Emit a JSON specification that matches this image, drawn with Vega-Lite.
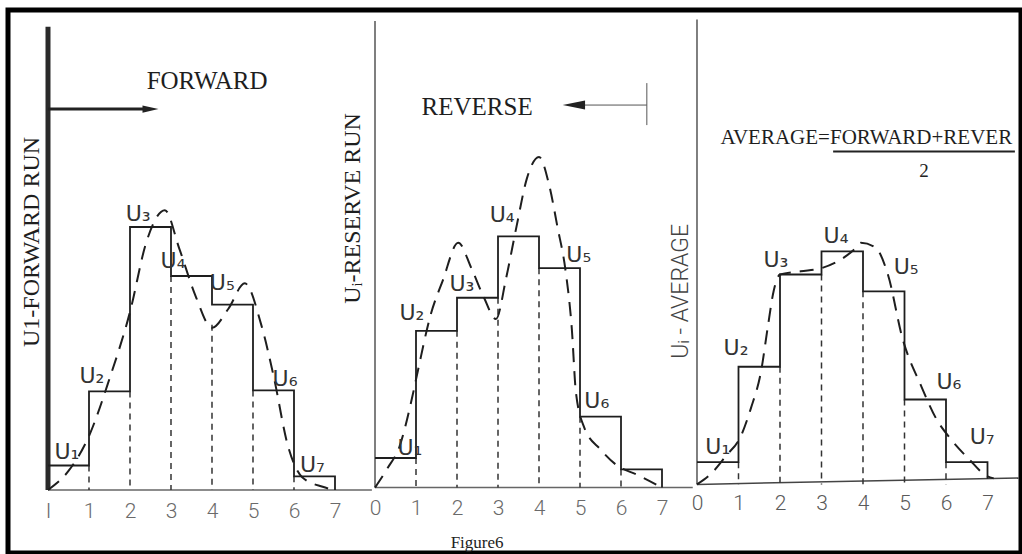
{
  "$schema": "https://vega.github.io/schema/vega-lite/v6.json",
  "width": 1013,
  "height": 543,
  "autosize": {"type": "none"},
  "padding": {"left": 8, "top": 10, "right": 1, "bottom": 1},
  "background": "white",
  "config": {"view": {"stroke": "#000000", "strokeWidth": 5}},
  "resolve": {"scale": {"x": "independent", "y": "independent"}, "axis": {"x": "independent", "y": "independent"}},
  "layer": [
    {
      "encoding": {
        "x": {"field": "x", "type": "quantitative", "scale": {"domain": [-0.9756, 23.732], "nice": false, "zero": false},
          "axis": {"orient": "bottom", "values": [0, 1, 2, 3, 4, 5, 6, 7], "offset": -63, "domain": false, "ticks": false, "tickSize": 0, "grid": false, "title": null,
            "labelFont": "Roboto, Liberation Sans, sans-serif", "labelFontWeight": 300, "labelFontSize": 21, "labelColor": "#6a6a6a", "labelBaseline": "middle", "labelPadding": 21,
            "labelFlush": false, "labelOverlap": false, "labelBound": false, "labelExpr": "datum.value == 0 ? 'I' : datum.label"}},
        "y": {"field": "y", "type": "quantitative", "scale": {"domain": [-19.81, 150.94], "nice": false, "zero": false}, "axis": null}
      },
      "layer": [
        {"data": {"values": [{"x": 0, "x2": 7.9, "y": 0}]}, "mark": {"type": "rule", "color": "#666666", "strokeWidth": 1.5}, "encoding": {"x2": {"field": "x2"}}},
        {"data": {"values": [{"x": 0, "y": 145.7}]}, "mark": {"type": "rule", "color": "#2a2a2a", "strokeWidth": 5}, "encoding": {"y2": {"datum": 0}}},
        {"data": {"values": [{"x": 1, "y": 7.7}, {"x": 2, "y": 31}, {"x": 3, "y": 67.3}, {"x": 4, "y": 52}, {"x": 5, "y": 31.3}, {"x": 6, "y": 4.3}]},
          "mark": {"type": "rule", "color": "#333333", "strokeWidth": 1.5, "strokeDash": [6, 5]}, "encoding": {"y2": {"datum": 0}}},
        {"data": {"values": [{"x": 0, "y": 7.7}, {"x": 1, "y": 31}, {"x": 2, "y": 82.7}, {"x": 3, "y": 67.3}, {"x": 4, "y": 58.3}, {"x": 5, "y": 31.3}, {"x": 6, "y": 4.3}, {"x": 7, "y": 4.3}, {"x": 7, "y": 0}]},
          "mark": {"type": "line", "interpolate": "step-after", "color": "#1e1e1e", "strokeWidth": 1.8}, "encoding": {"order": {"value": null}}},
        {"data": {"values": [{"x": 0, "y": 0}, {"x": 0.5, "y": 6}, {"x": 1, "y": 17}, {"x": 1.5, "y": 35}, {"x": 2, "y": 56}, {"x": 2.4, "y": 78}, {"x": 2.85, "y": 88}, {"x": 3.2, "y": 76}, {"x": 3.6, "y": 61}, {"x": 4, "y": 51}, {"x": 4.4, "y": 57}, {"x": 4.8, "y": 65}, {"x": 5.2, "y": 52}, {"x": 5.5, "y": 36}, {"x": 5.85, "y": 14}, {"x": 6.2, "y": 4}, {"x": 6.7, "y": 1}, {"x": 7, "y": 0}]},
          "mark": {"type": "line", "interpolate": "monotone", "color": "#1e1e1e", "strokeWidth": 2, "strokeDash": [14, 9]}},
        {"data": {"values": [{"x": 0.46, "y": 12, "text": "U₁"}, {"x": 1.07, "y": 36, "text": "U₂"}, {"x": 2.2, "y": 86.7, "text": "U₃"}, {"x": 3.05, "y": 72, "text": "U₄"}, {"x": 4.25, "y": 65, "text": "U₅"}, {"x": 5.78, "y": 35, "text": "U₆"}, {"x": 6.45, "y": 8, "text": "U₇"}]},
          "mark": {"type": "text", "font": "DejaVu Sans", "fontSize": 22, "color": "#333333", "align": "center", "baseline": "middle"}, "encoding": {"text": {"field": "text"}}},
        {"data": {"values": [{"x": 3.88, "y": 128.6, "text": "FORWARD"}]},
          "mark": {"type": "text", "font": "Liberation Serif", "fontSize": 25, "color": "#1e1e1e", "align": "center", "baseline": "middle"}, "encoding": {"text": {"field": "text"}}},
        {"data": {"values": [{"x": -0.39, "y": 78, "text": "U1-FORWARD RUN"}]},
          "mark": {"type": "text", "font": "Liberation Serif", "fontSize": 24, "angle": 270, "color": "#1e1e1e", "align": "center", "baseline": "middle"}, "encoding": {"text": {"field": "text"}}},
        {"data": {"values": [{"x": 0, "x2": 2.35, "y": 119.8}]}, "mark": {"type": "rule", "color": "#222222", "strokeWidth": 3}, "encoding": {"x2": {"field": "x2"}}},
        {"data": {"values": [{"x": 2.5, "y": 119.8}]}, "mark": {"type": "point", "shape": "M-1,-0.45L1,0L-1,0.45Z", "filled": true, "size": 256, "color": "#222222", "opacity": 1}}
      ]
    },
    {
      "encoding": {
        "x": {"field": "x", "type": "quantitative", "scale": {"domain": [-8.9512, 15.756], "nice": false, "zero": false},
          "axis": {"orient": "bottom", "values": [0, 1, 2, 3, 4, 5, 6, 7], "offset": -65.4, "domain": false, "ticks": false, "tickSize": 0, "grid": false, "title": null,
            "labelFont": "Roboto, Liberation Sans, sans-serif", "labelFontWeight": 300, "labelFontSize": 21, "labelColor": "#6a6a6a", "labelBaseline": "middle", "labelPadding": 21,
            "labelFlush": false, "labelOverlap": false, "labelBound": false}},
        "y": {"field": "y", "type": "quantitative", "scale": {"domain": [-20.57, 150.19], "nice": false, "zero": false}, "axis": null}
      },
      "layer": [
        {"data": {"values": [{"x": 0, "x2": 7.75, "y": 0}]}, "mark": {"type": "rule", "color": "#666666", "strokeWidth": 1.5}, "encoding": {"x2": {"field": "x2"}}},
        {"data": {"values": [{"x": 0, "y": 146.7}]}, "mark": {"type": "rule", "color": "#555555", "strokeWidth": 1.5}, "encoding": {"y2": {"datum": 0}}},
        {"data": {"values": [{"x": 1, "y": 9.3}, {"x": 2, "y": 49.3}, {"x": 3, "y": 59.7}, {"x": 4, "y": 69}, {"x": 5, "y": 22.3}, {"x": 6, "y": 5.7}]},
          "mark": {"type": "rule", "color": "#333333", "strokeWidth": 1.5, "strokeDash": [6, 5]}, "encoding": {"y2": {"datum": 0}}},
        {"data": {"values": [{"x": 0, "y": 9.3}, {"x": 1, "y": 49.3}, {"x": 2, "y": 59.7}, {"x": 3, "y": 79}, {"x": 4, "y": 69}, {"x": 5, "y": 22.3}, {"x": 6, "y": 5.7}, {"x": 7, "y": 5.7}, {"x": 7, "y": 0}]},
          "mark": {"type": "line", "interpolate": "step-after", "color": "#1e1e1e", "strokeWidth": 1.8}, "encoding": {"order": {"value": null}}},
        {"data": {"values": [{"x": 0, "y": 0}, {"x": 0.3, "y": 6}, {"x": 0.6, "y": 13}, {"x": 0.9, "y": 28}, {"x": 1.05, "y": 37}, {"x": 1.35, "y": 54}, {"x": 1.65, "y": 65}, {"x": 2.03, "y": 77}, {"x": 2.35, "y": 69}, {"x": 2.65, "y": 60}, {"x": 2.95, "y": 53}, {"x": 3.2, "y": 66}, {"x": 3.45, "y": 82}, {"x": 3.7, "y": 97}, {"x": 4.0, "y": 104}, {"x": 4.25, "y": 95}, {"x": 4.45, "y": 82}, {"x": 4.65, "y": 68}, {"x": 4.8, "y": 50}, {"x": 4.9, "y": 30}, {"x": 5.1, "y": 19}, {"x": 5.5, "y": 12}, {"x": 5.9, "y": 7}, {"x": 6.4, "y": 4}, {"x": 7, "y": 0}]},
          "mark": {"type": "line", "interpolate": "monotone", "color": "#1e1e1e", "strokeWidth": 2, "strokeDash": [14, 9]}},
        {"data": {"values": [{"x": 0.85, "y": 12.3, "text": "U₁"}, {"x": 0.9, "y": 55, "text": "U₂"}, {"x": 2.12, "y": 64, "text": "U₃"}, {"x": 3.1, "y": 85.7, "text": "U₄"}, {"x": 4.97, "y": 73, "text": "U₅"}, {"x": 5.41, "y": 27.3, "text": "U₆"}]},
          "mark": {"type": "text", "font": "DejaVu Sans", "fontSize": 22, "color": "#333333", "align": "center", "baseline": "middle"}, "encoding": {"text": {"field": "text"}}},
        {"data": {"values": [{"x": 2.49, "y": 119.8, "text": "REVERSE"}]},
          "mark": {"type": "text", "font": "Liberation Serif", "fontSize": 25, "color": "#1e1e1e", "align": "center", "baseline": "middle"}, "encoding": {"text": {"field": "text"}}},
        {"data": {"values": [{"x": -0.54, "y": 87.8, "text": "Uᵢ-RESERVE RUN"}]},
          "mark": {"type": "text", "font": "Liberation Serif", "fontSize": 24, "angle": 270, "color": "#1e1e1e", "align": "center", "baseline": "middle"}, "encoding": {"text": {"field": "text"}}},
        {"data": {"values": [{"x": 4.9, "x2": 6.63, "y": 120.3}]}, "mark": {"type": "rule", "color": "#555555", "strokeWidth": 1}, "encoding": {"x2": {"field": "x2"}}},
        {"data": {"values": [{"x": 6.63, "y": 127.2, "y2": 114}]}, "mark": {"type": "rule", "color": "#555555", "strokeWidth": 1}, "encoding": {"y2": {"field": "y2"}}},
        {"data": {"values": [{"x": 4.85, "y": 120.3}]}, "mark": {"type": "point", "shape": "M1,-0.4L-1,0L1,0.4Z", "filled": true, "size": 500, "color": "#222222", "opacity": 1}},
        {"data": {"values": [{"x": 2.49, "y": -17.4, "text": "Figure6"}]},
          "mark": {"type": "text", "font": "Liberation Serif", "fontSize": 17, "color": "#222222", "align": "center", "baseline": "middle"}, "encoding": {"text": {"field": "text"}}}
      ]
    },
    {
      "encoding": {
        "x": {"field": "x", "type": "quantitative", "scale": {"domain": [-16.602, 7.8072], "nice": false, "zero": false},
          "axis": {"orient": "bottom", "values": [0, 1, 2, 3, 4, 5, 6, 7], "offset": -68.6, "domain": false, "ticks": false, "tickSize": 0, "grid": false, "title": null,
            "labelFont": "Roboto, Liberation Sans, sans-serif", "labelFontWeight": 300, "labelFontSize": 21, "labelColor": "#5a5a5a", "labelBaseline": "middle", "labelPadding": 19,
            "labelFlush": false, "labelOverlap": false, "labelBound": false}},
        "y": {"field": "y", "type": "quantitative", "scale": {"domain": [-21.57, 149.18], "nice": false, "zero": false}, "axis": null}
      },
      "layer": [
        {"data": {"values": [{"x": 0, "x2": 7.75, "y": 0, "y2": 2}]}, "mark": {"type": "rule", "color": "#444444", "strokeWidth": 1.5}, "encoding": {"x2": {"field": "x2"}, "y2": {"field": "y2"}}},
        {"data": {"values": [{"x": 0, "y": 146.2}]}, "mark": {"type": "rule", "color": "#555555", "strokeWidth": 1.5}, "encoding": {"y2": {"datum": 0}}},
        {"data": {"values": [{"x": 1, "y": 7}, {"x": 2, "y": 37}, {"x": 3, "y": 66}, {"x": 4, "y": 60.7}, {"x": 5, "y": 26.7}, {"x": 6, "y": 7}]},
          "mark": {"type": "rule", "color": "#333333", "strokeWidth": 1.5, "strokeDash": [6, 5]}, "encoding": {"y2": {"datum": 0}}},
        {"data": {"values": [{"x": 0, "y": 7}, {"x": 1, "y": 37}, {"x": 2, "y": 66}, {"x": 3, "y": 73.3}, {"x": 4, "y": 60.7}, {"x": 5, "y": 26.7}, {"x": 6, "y": 7}, {"x": 7, "y": 7}, {"x": 7, "y": 1.8}]},
          "mark": {"type": "line", "interpolate": "step-after", "color": "#1e1e1e", "strokeWidth": 1.8}, "encoding": {"order": {"value": null}}},
        {"data": {"values": [{"x": 0, "y": 0}, {"x": 0.35, "y": 3.5}, {"x": 0.7, "y": 9}, {"x": 1.05, "y": 15}, {"x": 1.3, "y": 24}, {"x": 1.55, "y": 36}, {"x": 1.7, "y": 49}, {"x": 1.85, "y": 61}, {"x": 2.0, "y": 66}, {"x": 2.5, "y": 67}, {"x": 3.0, "y": 68}, {"x": 3.5, "y": 71}, {"x": 3.8, "y": 74}, {"x": 3.95, "y": 76}, {"x": 4.3, "y": 74.5}, {"x": 4.6, "y": 66}, {"x": 4.95, "y": 46}, {"x": 5.4, "y": 31}, {"x": 5.75, "y": 21}, {"x": 6.1, "y": 14.5}, {"x": 6.55, "y": 8}, {"x": 7.0, "y": 2.5}, {"x": 7.15, "y": 1.9}]},
          "mark": {"type": "line", "interpolate": "monotone", "color": "#1e1e1e", "strokeWidth": 2, "strokeDash": [14, 9]}},
        {"data": {"values": [{"x": 0.5, "y": 11.7, "text": "U₁"}, {"x": 0.94, "y": 43, "text": "U₂"}, {"x": 1.9, "y": 70.7, "text": "U₃"}, {"x": 3.35, "y": 78, "text": "U₄"}, {"x": 5.04, "y": 68.3, "text": "U₅"}, {"x": 6.07, "y": 32.3, "text": "U₆"}, {"x": 6.87, "y": 15, "text": "U₇"}]},
          "mark": {"type": "text", "font": "DejaVu Sans", "fontSize": 22, "color": "#333333", "align": "center", "baseline": "middle"}, "encoding": {"text": {"field": "text"}}},
        {"data": {"values": [{"x": 4.08, "y": 108.8, "text": "AVERAGE=FORWARD+REVER"}]},
          "mark": {"type": "text", "font": "Liberation Serif", "fontSize": 21, "color": "#1e1e1e", "align": "center", "baseline": "middle"}, "encoding": {"text": {"field": "text"}}},
        {"data": {"values": [{"x": 3.28, "x2": 7.66, "y": 104.7}]}, "mark": {"type": "rule", "color": "#222222", "strokeWidth": 2}, "encoding": {"x2": {"field": "x2"}}},
        {"data": {"values": [{"x": 5.47, "y": 98.4, "text": "2"}]},
          "mark": {"type": "text", "font": "Liberation Serif", "fontSize": 19, "color": "#222222", "align": "center", "baseline": "middle"}, "encoding": {"text": {"field": "text"}}},
        {"data": {"values": [{"x": -0.39, "y": 60.7, "text": "Uᵢ - AVERAGE"}]},
          "mark": {"type": "text", "font": "Roboto, Liberation Sans, sans-serif", "fontWeight": 300, "fontSize": 23, "angle": 270, "color": "#444444", "align": "center", "baseline": "middle"}, "encoding": {"text": {"field": "text"}}}
      ]
    }
  ]
}
